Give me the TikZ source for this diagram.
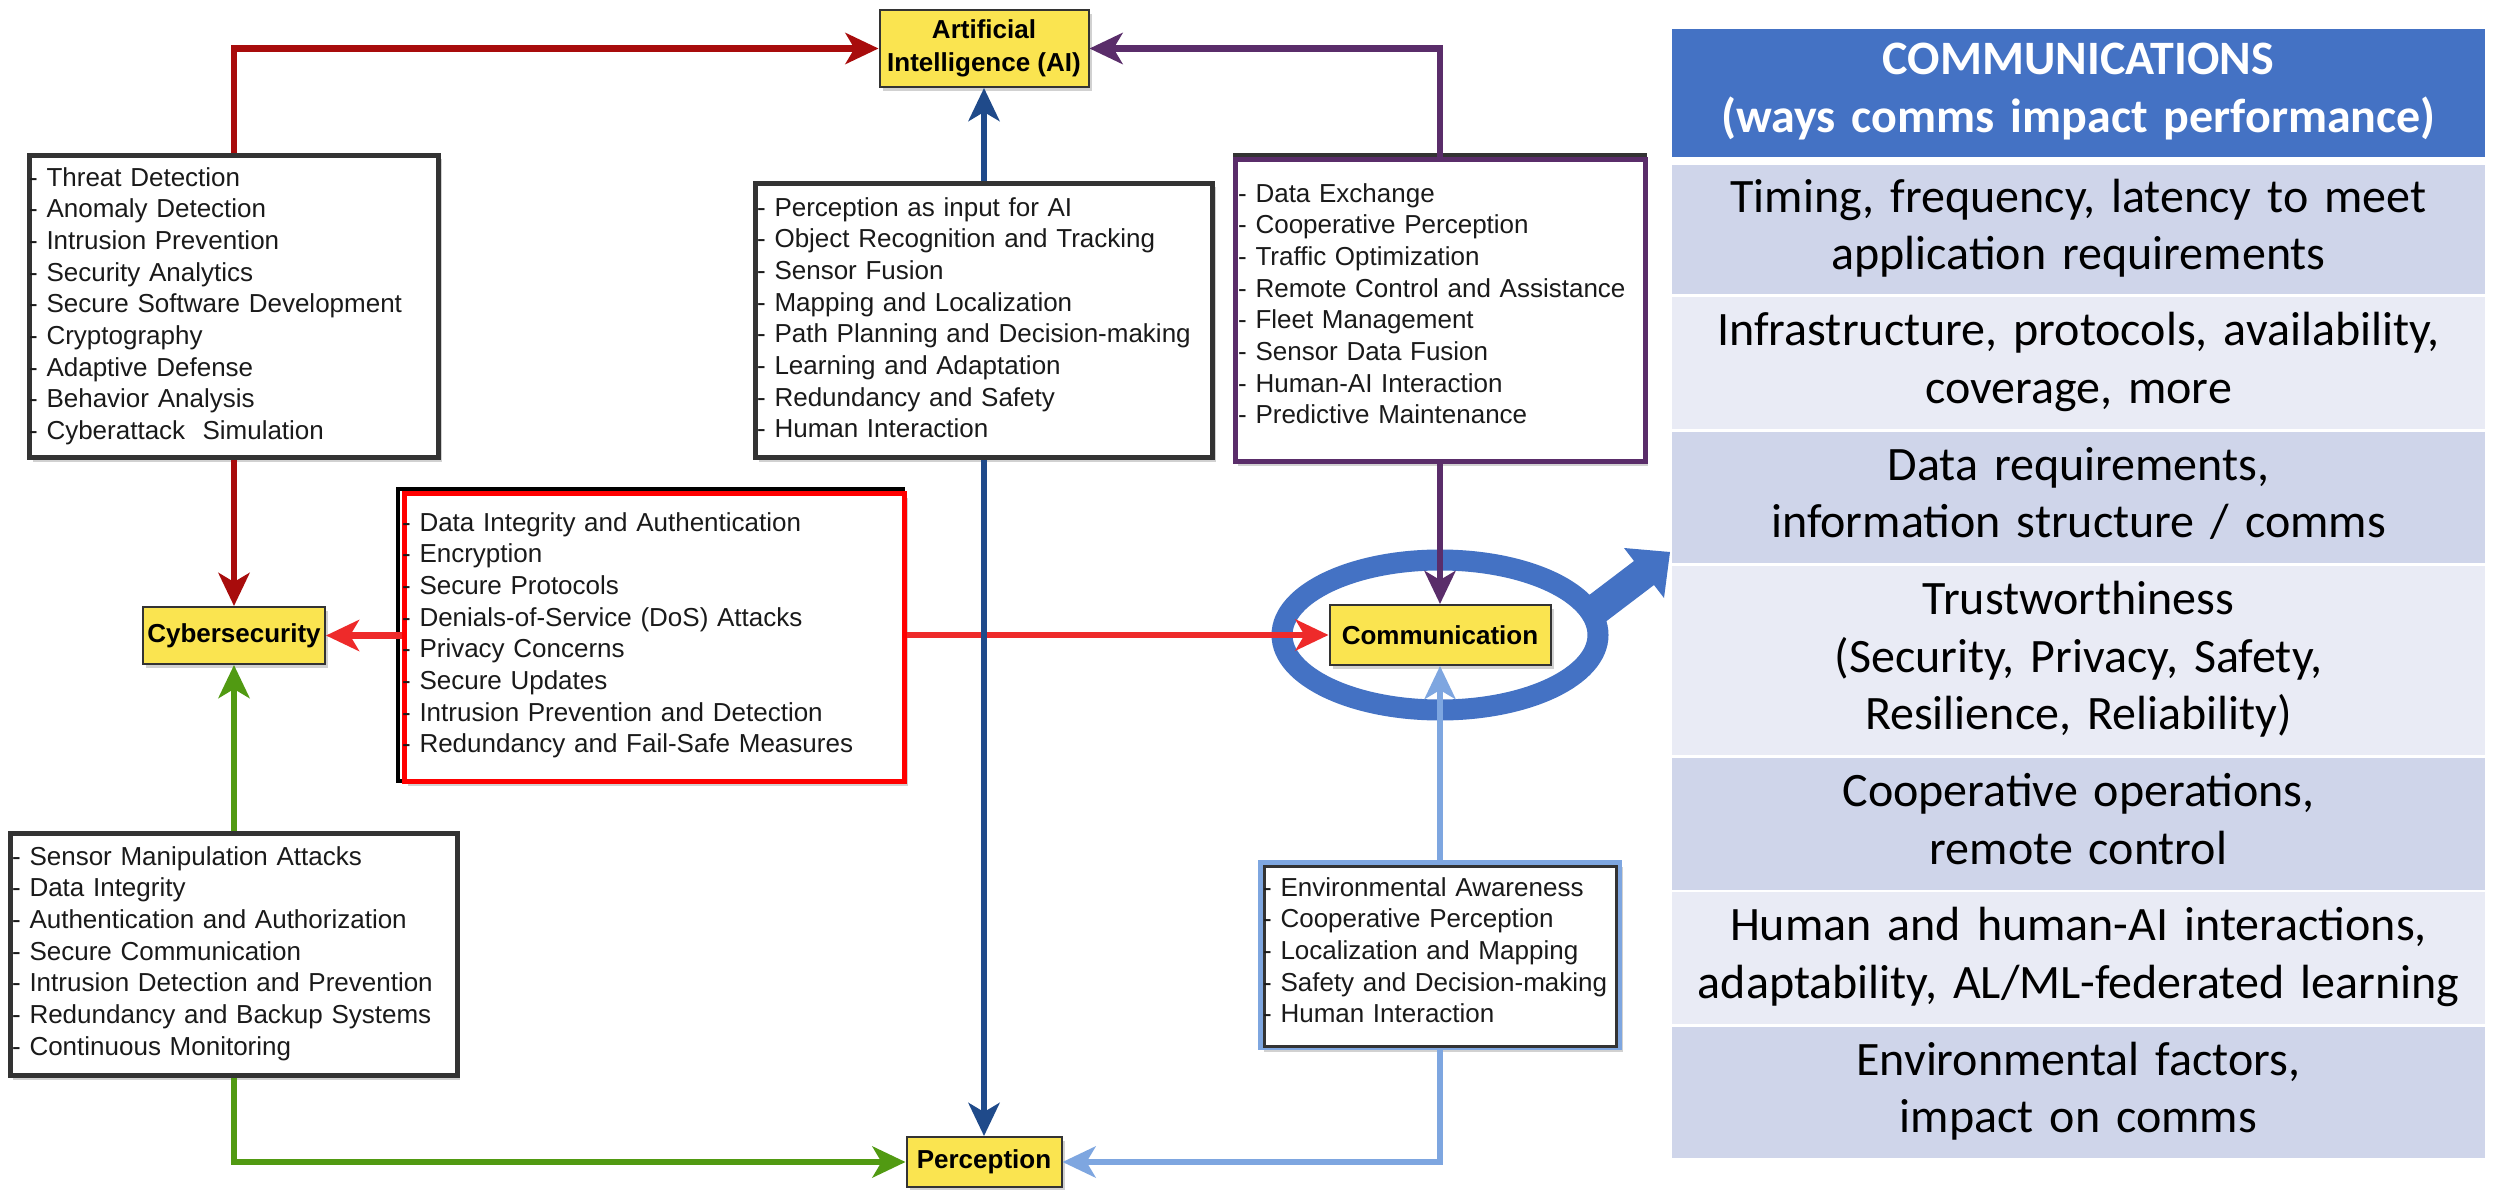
\documentclass[tikz,border=0pt]{standalone}
\usepackage{fontspec}
\setmainfont{Liberation Sans}
\newfontfamily\tablefamily{Carlito}
\usetikzlibrary{arrows.meta,shadows,calc}

\definecolor{boxline}{HTML}{333333}
\definecolor{txt}{HTML}{1A1A1A}
\definecolor{topicfill}{HTML}{FAE450}
\definecolor{darkred}{HTML}{A80C0C}
\definecolor{brightred}{HTML}{EE2A2A}
\definecolor{framered}{HTML}{FF0000}
\definecolor{navy}{HTML}{1F4A8A}
\definecolor{leaf}{HTML}{519A12}
\definecolor{plum}{HTML}{5A2D6A}
\definecolor{sky}{HTML}{7EA6E0}
\definecolor{accent}{HTML}{4472C4}
\definecolor{rowdark}{HTML}{CFD5EA}
\definecolor{rowlight}{HTML}{E9EBF5}

\newcommand\listfont{\fontsize{26}{31.65}\selectfont}
\newcommand\topicfont{\fontsize{26}{33}\selectfont\bfseries}
\newcommand\rowfont{\tablefamily\fontsize{48}{57.6}\selectfont}
\newcommand\headfont{\tablefamily\fontsize{48}{57.6}\selectfont\bfseries}
\newcommand\liststrut{\rule{0pt}{22pt}}
\newcommand\rowstrut{\rule[-10pt]{0pt}{41pt}}

\tikzset{
  boxshadow/.style={drop shadow={shadow xshift=3pt,shadow yshift=-4pt,fill=black!45,opacity=0.4}},
  topic/.style={draw=boxline, line width=2pt, fill=topicfill, boxshadow,
    inner sep=0pt, align=center, text=black, font=\topicfont},
  listbox/.style={fill=white, boxshadow, inner sep=0pt, line width=5pt},
  listtext/.style={anchor=north west, inner sep=0pt, align=left,
    text width=480pt, text=txt, font=\listfont},
  conn/.style={line width=6.5pt, -{Stealth[length=33pt,width=31pt,inset=9pt]}},
  tablerow/.style={inner sep=0pt, minimum width=813pt, align=center,
    text width=800pt, text=black, font=\rowfont},
}

\begin{document}
\begin{tikzpicture}[x=1pt, y=-1pt]
\fill[white] (0,0) rectangle (2503,1190);
\useasboundingbox (0,0) rectangle (2503,1190);

% highlight ring around the communication topic and its pointer
\draw[accent, line width=21pt] (1440,635) ellipse [x radius=158pt, y radius=75pt];
\fill[accent] (1580,602) -- (1634,561) -- (1624,548) -- (1670,552)
  -- (1664,598) -- (1654,585) -- (1600,626) -- cycle;

% topic boxes
\node[topic, minimum width=209pt, minimum height=77pt] (ai) at (984,48.5) {Artificial\\Intelligence (AI)};
\node[topic, minimum width=182pt, minimum height=57pt] (cyber) at (234,635.5) {Cybersecurity};
\node[topic, minimum width=221pt, minimum height=60pt] (comm) at (1440,635) {Communication};
\node[topic, minimum width=155pt, minimum height=50pt] (perc) at (984,1162) {Perception};

% cybersecurity -> AI
\node[listbox, draw=boxline, minimum width=409pt, minimum height=302pt] (cyberlist) at (234,306.5) {};
\node[listtext] (cyberlisttext) at (29,164) {\liststrut- Threat Detection\\
- Anomaly Detection\\
- Intrusion Prevention\\
- Security Analytics\\
- Secure Software Development\\
- Cryptography\\
- Adaptive Defense\\
- Behavior Analysis\\
- Cyberattack\ \ Simulation};

% perception -> AI
\node[listbox, draw=boxline, minimum width=457pt, minimum height=274pt] (ailist) at (984,320.5) {};
\node[listtext] (ailisttext) at (757,194) {\liststrut- Perception as input for AI\\
- Object Recognition and Tracking\\
- Sensor Fusion\\
- Mapping and Localization\\
- Path Planning and Decision-making\\
- Learning and Adaptation\\
- Redundancy and Safety\\
- Human Interaction};

% communication -> AI
\node[listbox, draw=plum, minimum width=410pt, minimum height=302pt] (purplist) at (1440,310.5) {};
\draw[boxline, line width=4pt] (1233,155) -- (1647,155);
\node[listtext] (purplisttext) at (1238,180) {\liststrut- Data Exchange\\
- Cooperative Perception\\
- Traffic Optimization\\
- Remote Control and Assistance\\
- Fleet Management\\
- Sensor Data Fusion\\
- Human-AI Interaction\\
- Predictive Maintenance};

% communication <-> cybersecurity
\draw[black, line width=4pt] (398,489) rectangle (903,781);
\node[listbox, draw=framered, minimum width=500pt, minimum height=288pt] (redlist) at (654.5,637.5) {};
\node[listtext] (redlisttext) at (402,509) {\liststrut- Data Integrity and Authentication\\
- Encryption\\
- Secure Protocols\\
- Denials-of-Service (DoS) Attacks\\
- Privacy Concerns\\
- Secure Updates\\
- Intrusion Prevention and Detection\\
- Redundancy and Fail-Safe Measures};

% perception <-> cybersecurity
\node[listbox, draw=boxline, minimum width=447pt, minimum height=242pt] (greenlist) at (233.5,954.5) {};
\node[listtext] (greenlisttext) at (12,843) {\liststrut- Sensor Manipulation Attacks\\
- Data Integrity\\
- Authentication and Authorization\\
- Secure Communication\\
- Intrusion Detection and Prevention\\
- Redundancy and Backup Systems\\
- Continuous Monitoring};

% perception <-> communication
\node[listbox, draw=sky, minimum width=359pt, minimum height=185pt] (envlist) at (1440,955) {};
\draw[boxline, line width=3pt] (1264,866) rectangle (1616,1046);
\node[listtext] (envlisttext) at (1263,874) {\liststrut- Environmental Awareness\\
- Cooperative Perception\\
- Localization and Mapping\\
- Safety and Decision-making\\
- Human Interaction};

% connectors
\draw[conn, darkred] (cyberlist.north) |- (ai.west);
\draw[conn, darkred] (cyber.north |- cyberlist.south) -- (cyber.north);
\draw[conn, leaf] (cyber.south |- greenlist.north) -- (cyber.south);
\draw[conn, leaf] (cyber.south |- greenlist.south) |- (perc.west);
\draw[conn, plum] (purplist.north) |- (ai.east);
\draw[conn, plum] (comm.north |- purplist.south) -- (comm.north);
\draw[conn, brightred] (redlist.west |- cyber.east) -- (cyber.east);
\draw[conn, brightred] (redlist.east |- comm.west) -- (comm.west);
\draw[conn, sky] (comm.south |- envlist.north) -- (comm.south);
\draw[conn, sky] (envlist.south) |- (perc.east);
\draw[conn, navy] (ai.south |- ailist.north) -- (ai.south);
\draw[conn, navy] (perc.north |- ailist.south) -- (perc.north);

% communications table
\node[tablerow, fill=accent, minimum height=128pt, text=white, font=\headfont] (thead) at (2078.5,93)
  {\rowstrut COMMUNICATIONS\\\rowstrut(ways comms impact performance)};
\node[tablerow, fill=rowdark, minimum height=129pt] (trow1) at (2078.5,229.5)
  {\rowstrut Timing, frequency, latency to meet\\\rowstrut application requirements};
\node[tablerow, fill=rowlight, minimum height=132pt] (trow2) at (2078.5,363)
  {\rowstrut Infrastructure, protocols, availability,\\\rowstrut coverage, more};
\node[tablerow, fill=rowdark, minimum height=131pt] (trow3) at (2078.5,497.5)
  {\rowstrut Data requirements,\\\rowstrut information structure / comms};
\node[tablerow, fill=rowlight, minimum height=189pt] (trow4) at (2078.5,660.5)
  {\rowstrut Trustworthiness\\\rowstrut (Security, Privacy, Safety,\\\rowstrut Resilience, Reliability)};
\node[tablerow, fill=rowdark, minimum height=132pt] (trow5) at (2078.5,824)
  {\rowstrut Cooperative operations,\\\rowstrut remote control};
\node[tablerow, fill=rowlight, minimum height=132pt] (trow6) at (2078.5,958)
  {\rowstrut Human and human-AI interactions,\\\rowstrut adaptability, AL/ML-federated learning};
\node[tablerow, fill=rowdark, minimum height=131pt] (trow7) at (2078.5,1092.5)
  {\rowstrut Environmental factors,\\\rowstrut impact on comms};
\end{tikzpicture}
\end{document}
